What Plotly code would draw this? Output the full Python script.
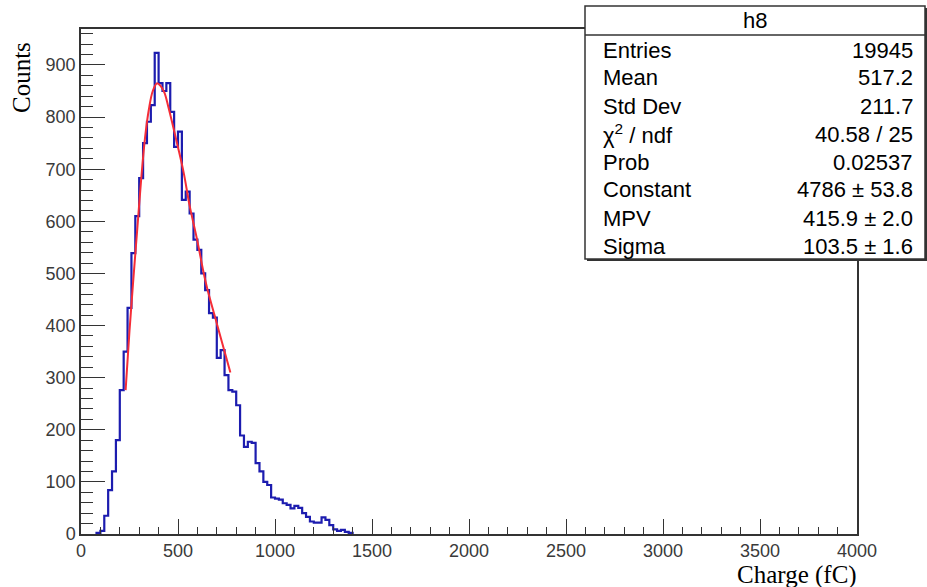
import plotly.graph_objects as go

# ---------------- data ----------------
BIN_WIDTH = 20  # fC
bin_low_edges = list(range(80, 1400, BIN_WIDTH))
counts = [
    2, 6, 35, 84, 120, 180, 276, 350, 434, 539, 610, 683, 750, 791, 823, 923,
    865, 850, 865, 810, 743, 772, 641, 657, 615, 565, 545, 500, 468, 424, 415,
    338, 353, 305, 276, 273, 247, 189, 167, 177, 175, 136, 120, 100, 94,
    70, 68, 66, 59, 56, 49, 54, 50, 40, 33, 24, 22, 22, 32, 27, 17, 9, 6, 8, 4, 2,
]

fit_x = [230, 250, 270, 290, 310, 330, 350, 370, 392, 410, 430, 450, 500, 530,
         560, 600, 630, 650, 700, 740, 770]
fit_y = [276, 390, 490, 585, 680, 760, 815, 850, 865, 860, 847, 820, 742, 692,
         630, 562, 505, 472, 404, 350, 310]

x_tick_vals = [0, 500, 1000, 1500, 2000, 2500, 3000, 3500, 4000]
y_tick_vals = [0, 100, 200, 300, 400, 500, 600, 700, 800, 900]
x_range = [0, 4000]
y_range = [0, 969]

hist_name = "h8"
stat_labels = ["Entries", "Mean", "Std Dev", "χ<sup>2</sup> / ndf", "Prob",
               "Constant", "MPV", "Sigma"]
stat_values = ["19945", "517.2", "211.7", "40.58 / 25", "0.02537",
               "4786 ± 53.8", "415.9 ± 2.0", "103.5 ± 1.6"]

x_title = "Charge (fC)"
y_title = "Counts"

# ---------------- layout geometry (pixels) ----------------
W, H = 927, 587
L, R, T, B = 81, 70, 29, 53
PW, PH = W - L - R, H - T - B


def px(xp):
    return (xp - L) / PW


def py(yp):
    return (H - B - yp) / PH


# histogram outline built from the bins
xs = [bin_low_edges[0]]
ys = [0]
for lo, c in zip(bin_low_edges, counts):
    xs += [lo, lo + BIN_WIDTH]
    ys += [c, c]
xs.append(bin_low_edges[-1] + BIN_WIDTH)
ys.append(0)

fig = go.Figure()
fig.add_trace(go.Scatter(x=xs, y=ys, mode="lines",
                         line=dict(color="rgb(28,28,175)", width=2.2),
                         hoverinfo="skip", showlegend=False))
fig.add_trace(go.Scatter(x=fit_x, y=fit_y, mode="lines", line_shape="spline",
                         line=dict(color="rgb(245,45,55)", width=2),
                         hoverinfo="skip", showlegend=False))

tick_font = dict(family="Liberation Sans, Arial, sans-serif", size=18, color="#3a3a3a")

fig.update_xaxes(range=x_range, tickvals=x_tick_vals, ticks="inside", ticklen=15,
                 tickwidth=1.3, tickcolor="#333", showline=True, linecolor="#333",
                 linewidth=1.5, mirror=True, showgrid=False, zeroline=False,
                 tickfont=tick_font,
                 minor=dict(dtick=100, ticks="inside", ticklen=7, tickwidth=1.2,
                            tickcolor="#333", showgrid=False))
fig.update_yaxes(range=y_range, tickvals=y_tick_vals, ticks="inside", ticklen=24,
                 tickwidth=1.3, tickcolor="#333", showline=True, linecolor="#333",
                 linewidth=1.5, mirror=True, showgrid=False, zeroline=False,
                 tickfont=tick_font,
                 minor=dict(dtick=20, ticks="inside", ticklen=12, tickwidth=1.2,
                            tickcolor="#333", showgrid=False))

shapes = []
# stats box shadow + box
bx0, bx1, by0, by1 = 585, 925, 6, 259
shapes.append(dict(type="rect", xref="paper", yref="paper", layer="above",
                   x0=px(bx0 + 2), x1=px(bx1 + 2), y0=py(by1 + 2), y1=py(by0 + 2),
                   fillcolor="#333", line=dict(width=0)))
shapes.append(dict(type="rect", xref="paper", yref="paper", layer="above",
                   x0=px(bx0), x1=px(bx1), y0=py(by1), y1=py(by0),
                   fillcolor="white", line=dict(color="#333", width=1.5)))
shapes.append(dict(type="line", xref="paper", yref="paper", layer="above",
                   x0=px(bx0), x1=px(bx1), y0=py(35), y1=py(35),
                   line=dict(color="#333", width=1.5)))

stat_font = dict(family="Liberation Sans, Arial, sans-serif", size=22, color="black")
annotations = [dict(xref="paper", yref="paper", x=px((bx0 + bx1) / 2), y=py(21),
                    text=hist_name, showarrow=False, xanchor="center",
                    yanchor="middle", font=stat_font)]
row_y0, row_dy = 50, 28
for i, (lab, val) in enumerate(zip(stat_labels, stat_values)):
    yy = py(row_y0 + i * row_dy)
    annotations.append(dict(xref="paper", yref="paper", x=px(601), y=yy, text=lab,
                            showarrow=False, xanchor="left", yanchor="middle",
                            font=stat_font))
    annotations.append(dict(xref="paper", yref="paper", x=px(915), y=yy, text=val,
                            showarrow=False, xanchor="right", yanchor="middle",
                            font=stat_font))

title_font = dict(family="Liberation Serif, Times New Roman, serif", size=25, color="black")
annotations.append(dict(xref="paper", yref="paper", x=px(859), y=py(575), text=x_title,
                        showarrow=False, xanchor="right", yanchor="middle",
                        font=title_font))
annotations.append(dict(xref="paper", yref="paper", x=px(22), y=py(78), text=y_title,
                        textangle=-90, showarrow=False, xanchor="center",
                        yanchor="middle", font=title_font))

fig.update_layout(width=W, height=H, margin=dict(l=L, r=R, t=T, b=B),
                  paper_bgcolor="white", plot_bgcolor="white",
                  shapes=shapes, annotations=annotations, showlegend=False)

fig.write_html("out.html", config={"displayModeBar": False},
               post_script="document.body.style.margin='0';document.body.style.overflow='hidden';")
